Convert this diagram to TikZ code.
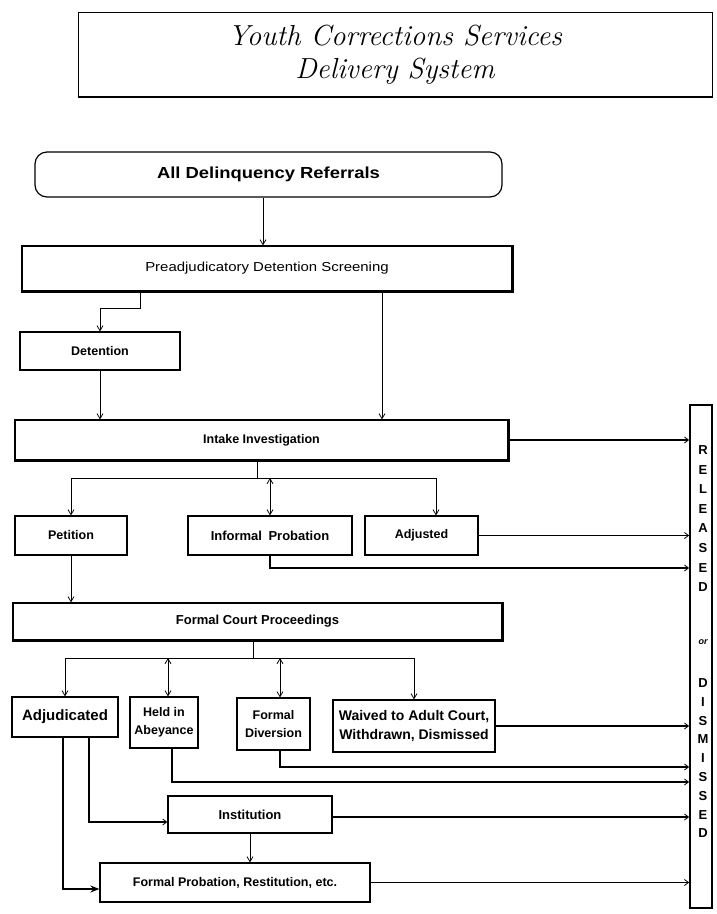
\documentclass[tikz,border=0pt]{standalone}
\usepackage{fontspec}
\newfontfamily\boxfont{Liberation Sans}
\newfontfamily\wideboxfont[FakeStretch=1.15]{Liberation Sans}
\usetikzlibrary{arrows.meta,calc}
\begin{document}
\begin{tikzpicture}[x=1pt,y=-1pt,
  box/.style={draw, line width=1.2pt, inner sep=0pt, align=center,
    font=\boxfont\bfseries\fontsize{12.5}{18}\selectfont},
  link/.style={line width=0.8pt},
  arr/.style={link, -{Straight Barb[length=5pt,width=6pt]}},
  dbl/.style={link, {Straight Barb[length=5pt,width=6pt]}-{Straight Barb[length=5pt,width=6pt]}},
  outarr/.style={line width=1.6pt, -{Straight Barb[length=4pt,width=6pt,line width=0.8pt]}},
  boldarr/.style={line width=1.6pt, -{Stealth[length=9pt,width=7pt]}},
  letter/.style={font=\boxfont\bfseries\fontsize{13}{13}\selectfont, inner sep=0pt},
  heavy/.style={line width=2.6pt}
]
\useasboundingbox (0,0) rectangle (716,914);
\fill[white] (0,0) rectangle (716,914);

% title
\node[draw, line width=0.9pt, minimum width=634pt, minimum height=85pt, align=center,
  font=\itshape\fontsize{29}{33}\selectfont] (title) at (395,54.5)
  {Youth Corrections Services\\Delivery System};
\draw[line width=2pt] (title.south west) -- (title.south east);

% boxes
\node[box, rounded corners=12pt, minimum width=467pt, minimum height=45pt,
  font=\wideboxfont\bfseries\fontsize{16}{18}\selectfont] (ref) at (268.5,174.5) {All Delinquency Referrals};
\node[box, minimum width=490pt, minimum height=45pt,
  font=\wideboxfont\fontsize{13}{16}\selectfont] (pre) at (267,268.5) {Preadjudicatory Detention Screening};
\node[box, minimum width=160pt, minimum height=38pt] (det) at (100,351) {Detention};
\node[box, minimum width=493pt, minimum height=40pt] (intake) at (261.5,440) {Intake Investigation};
\node[box, minimum width=112pt, minimum height=39pt] (pet) at (71,535.5) {Petition};
\node[box, minimum width=164pt, minimum height=39pt,
  font=\boxfont\bfseries\fontsize{13}{15}\selectfont] (inf) at (270,535.5) {Informal\enspace Probation};
\node[box, minimum width=113pt, minimum height=39pt] (adj) at (421.5,535.5) {Adjusted};
\node[box, minimum width=489pt, minimum height=37pt,
  font=\boxfont\bfseries\fontsize{13}{15}\selectfont] (court) at (257.5,621.5) {Formal Court Proceedings};
\node[box, minimum width=106pt, minimum height=40pt,
  font=\boxfont\bfseries\fontsize{15}{17}\selectfont] (adjud) at (65,717) {Adjudicated};
\node[box, minimum width=68pt, minimum height=51pt] (held) at (164,722.5) {Held in\\Abeyance};
\node[box, minimum width=73pt, minimum height=52pt] (div) at (273.5,724) {Formal\\Diversion};
\node[box, minimum width=162pt, minimum height=52pt,
  font=\boxfont\bfseries\fontsize{14}{20}\selectfont] (waiv) at (414,726) {Waived to Adult Court,\\Withdrawn, Dismissed};
\node[box, minimum width=164pt, minimum height=37pt,
  font=\boxfont\bfseries\fontsize{13}{15}\selectfont] (inst) at (250,814.5) {Institution};
\node[box, minimum width=270pt, minimum height=39pt] (prob) at (235,882.5) {Formal Probation, Restitution, etc.};

% shadow edges
\draw[heavy] (pre.south west) -- (pre.south east) -- (pre.north east);
\draw[heavy] (intake.south west) -- (intake.south east) -- (intake.north east);
\draw[heavy] (court.south west) -- (court.south east) -- (court.north east);

% released bar
\node[draw, line width=1.8pt, minimum width=22pt, minimum height=503pt, inner sep=0pt] (bar) at (701,656.5) {};
\foreach \c [count=\i] in {R,E,L,E,A,S,E,D}
  \node[letter] (rel\i) at (703,{450+19.6*(\i-1)}) {\c};
\node[letter, font=\boxfont\bfseries\itshape\fontsize{9}{9}\selectfont] (ortext) at (703,642) {or};
\foreach \c [count=\i] in {D,I,S,M,I,S,S,E,D}
  \node[letter] (dis\i) at (703,{683+18.8*(\i-1)}) {\c};

% top connectors
\coordinate (rx) at (263,0);
\draw[arr] (ref.south -| rx) -- (pre.north -| rx);
\coordinate (pd) at (140,308);
\draw[arr] (pre.south -| pd) -- (pd) -| (det.north);
\draw[arr] (det.south) -- (det.south |- intake.north);
\coordinate (pi) at (382,0);
\draw[arr] (pre.south -| pi) -- (intake.north -| pi);

% intake bus
\coordinate (bus1) at (257,478);
\coordinate (adjx) at (436,0);
\draw[link] (intake.south -| bus1) -- (bus1);
\draw[link] (bus1 -| pet.north) -- (bus1 -| adjx);
\draw[arr] (bus1 -| pet.north) -- (pet.north);
\draw[dbl] (bus1 -| inf.north) -- (inf.north);
\draw[arr] (bus1 -| adjx) -- (adj.north -| adjx);
\draw[arr] (pet.south) -- (pet.south |- court.north);

% court bus
\coordinate (bus2) at (253,658);
\coordinate (hx) at (168,0);
\coordinate (dx) at (280,0);
\draw[link] (court.south -| bus2) -- (bus2);
\draw[link] (bus2 -| adjud.north) -- (bus2 -| waiv.north);
\draw[arr] (bus2 -| adjud.north) -- (adjud.north);
\draw[dbl] (bus2 -| hx) -- (held.north -| hx);
\draw[dbl] (bus2 -| dx) -- (div.north -| dx);
\draw[arr] (bus2 -| waiv.north) -- (waiv.north);

% to released bar
\draw[outarr] (intake.east) -- (intake.east -| bar.west);
\draw[outarr] (adj.east) -- (adj.east -| bar.west);
\coordinate (infd) at (270,568);
\draw[outarr] (inf.south -| infd) -- (infd) -- (infd -| bar.west);
\draw[outarr] (waiv.east) -- (waiv.east -| bar.west);
\coordinate (divd) at (280,767);
\draw[outarr] (div.south -| divd) -- (divd) -- (divd -| bar.west);
\coordinate (heldd) at (172,782);
\draw[outarr] (held.south -| heldd) -- (heldd) -- (heldd -| bar.west);
\coordinate (instr) at (0,817);
\draw[outarr] (inst.east |- instr) -- (instr -| bar.west);
\draw[outarr] (prob.east) -- (prob.east -| bar.west);

% adjudicated outcomes
\coordinate (a1) at (89,822);
\coordinate (a2) at (63,889);
\draw[outarr] (adjud.south -| a1) -- (a1) -- (a1 -| inst.west);
\draw[boldarr] (adjud.south -| a2) -- (a2) -- (a2 -| prob.west);
\draw[arr] (inst.south) -- (inst.south |- prob.north);
\end{tikzpicture}
\end{document}
